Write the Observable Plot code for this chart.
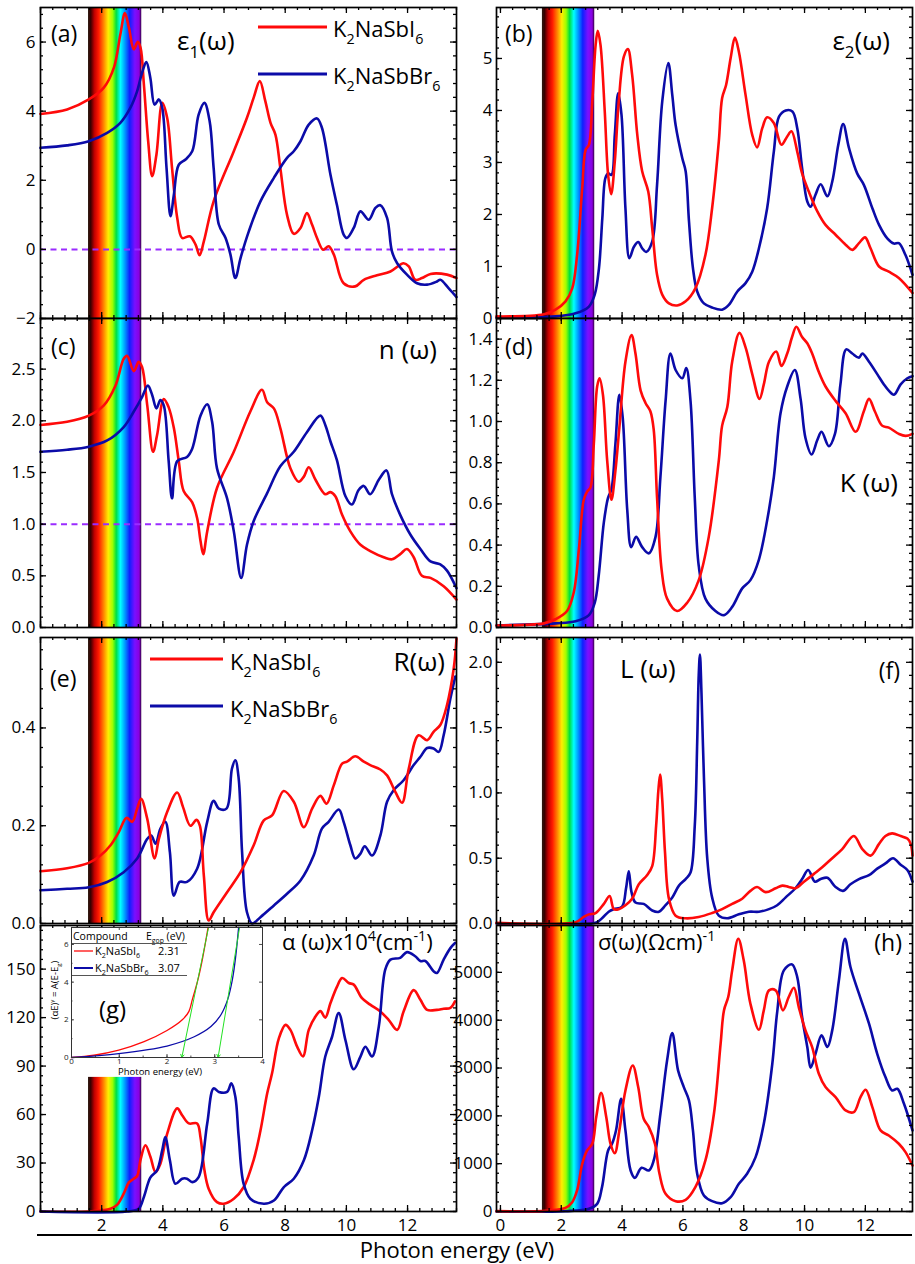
<!DOCTYPE html>
<html><head><meta charset="utf-8">
<script src="https://cdn.jsdelivr.net/npm/d3@7"></script>
<script src="https://cdn.jsdelivr.net/npm/@observablehq/plot@0.6"></script>
<style>
body{margin:0;background:#fff;}
#root{position:relative;width:915px;height:1264px;overflow:hidden;font-family:"Open Sans",sans-serif;background:#fff;}
#root svg{position:absolute;}
</style></head><body>
<svg width="0" height="0" style="position:absolute"><defs>
<linearGradient id="rainbow" x1="0" x2="1" y1="0" y2="0">
<stop offset="0" stop-color="#2a1a10"/><stop offset="0.05" stop-color="#3a0000"/>
<stop offset="0.12" stop-color="#c00000"/><stop offset="0.2" stop-color="#ff1a00"/>
<stop offset="0.3" stop-color="#ff8c00"/><stop offset="0.38" stop-color="#ffee00"/>
<stop offset="0.46" stop-color="#a0ff00"/><stop offset="0.53" stop-color="#00e040"/>
<stop offset="0.61" stop-color="#00ffff"/><stop offset="0.7" stop-color="#0090ff"/>
<stop offset="0.78" stop-color="#1020ff"/><stop offset="0.88" stop-color="#7a10ff"/>
<stop offset="0.96" stop-color="#8a00e0"/><stop offset="1" stop-color="#300040"/>
</linearGradient></defs></svg>
<div id="root"></div>
<script>
// ---------------- data (photon energy eV, value) ----------------
const eps1_I = [[0,3.92],[0.87,4.05],[1.58,4.34],[2.07,4.68],[2.4,5.26],[2.61,6.22],[2.76,6.84],[2.89,6.42],[3.05,5.79],[3.18,6.01],[3.27,5.84],[3.38,4.77],[3.52,3.13],[3.65,2.12],[3.79,2.74],[3.98,4.24],[4.14,3.81],[4.3,2.36],[4.47,0.91],[4.63,0.33],[4.88,0.38],[5.07,0.14],[5.2,-0.17],[5.34,0.23],[5.66,1.39],[6.32,2.84],[6.75,3.81],[6.97,4.39],[7.17,4.87],[7.35,4.29],[7.52,3.66],[7.68,3.32],[7.84,2.36],[8.06,1.0],[8.28,0.45],[8.5,0.62],[8.71,1.05],[8.88,0.71],[9.04,0.33],[9.24,-0.01],[9.42,0.09],[9.59,-0.15],[9.91,-0.98],[10.29,-1.07],[10.57,-0.88],[11.0,-0.75],[11.44,-0.64],[11.87,-0.4],[12.04,-0.49],[12.25,-0.88],[12.47,-0.83],[12.75,-0.71],[13.29,-0.73],[13.6,-0.83]];
const eps1_Br = [[0,2.94],[0.87,3.01],[1.58,3.13],[2.18,3.37],[2.61,3.66],[2.94,4.1],[3.16,4.58],[3.32,5.11],[3.46,5.42],[3.59,4.97],[3.73,4.19],[3.87,4.34],[3.98,4.1],[4.12,2.36],[4.25,0.96],[4.36,1.58],[4.52,2.45],[4.74,2.6],[4.96,2.84],[5.17,3.9],[5.36,4.24],[5.53,3.71],[5.66,2.36],[5.83,0.72],[6.05,0.33],[6.21,-0.15],[6.37,-0.83],[6.54,-0.25],[6.81,0.52],[7.19,1.39],[7.63,2.07],[8.06,2.65],[8.28,2.84],[8.5,3.13],[8.77,3.61],[9.04,3.79],[9.2,3.52],[9.48,2.16],[9.69,1.29],[9.91,0.43],[10.02,0.33],[10.24,0.62],[10.46,1.1],[10.73,0.86],[10.95,1.2],[11.11,1.28],[11.33,0.91],[11.49,-0.06],[11.66,-0.4],[11.98,-0.73],[12.31,-0.98],[12.64,-1.02],[12.96,-0.93],[13.07,-0.88],[13.34,-1.12],[13.6,-1.38]];
const eps2_I = [[-0.13,0.04],[1.43,0.08],[1.81,0.17],[2.14,0.33],[2.36,0.58],[2.52,1.22],[2.69,2.51],[2.8,3.24],[2.91,3.34],[3.02,4.17],[3.13,5.26],[3.2,5.53],[3.29,5.26],[3.43,3.98],[3.54,2.76],[3.64,2.39],[3.76,3.02],[3.89,4.17],[4.06,5.04],[4.19,5.18],[4.33,4.69],[4.5,3.53],[4.66,2.83],[4.86,2.44],[4.99,1.74],[5.15,0.84],[5.32,0.46],[5.54,0.29],[5.81,0.25],[6.09,0.33],[6.41,0.58],[6.74,1.22],[6.96,2.12],[7.18,3.4],[7.29,4.24],[7.42,4.49],[7.57,5.01],[7.71,5.4],[7.84,5.13],[8.06,4.3],[8.28,3.53],[8.44,3.29],[8.61,3.66],[8.77,3.87],[8.99,3.76],[9.24,3.34],[9.43,3.5],[9.57,3.6],[9.76,3.21],[9.92,2.79],[10.14,2.44],[10.42,2.06],[10.69,1.8],[11.02,1.61],[11.35,1.42],[11.57,1.32],[11.79,1.45],[11.99,1.56],[12.17,1.35],[12.45,1.0],[12.77,0.9],[13.1,0.78],[13.55,0.49]];
const eps2_Br = [[-0.13,0.02],[1.81,0.04],[2.47,0.1],[2.91,0.23],[3.1,0.46],[3.24,0.97],[3.35,1.93],[3.45,2.7],[3.54,2.79],[3.65,2.76],[3.76,3.53],[3.87,4.33],[3.98,3.92],[4.11,2.12],[4.24,1.16],[4.39,1.38],[4.53,1.47],[4.66,1.35],[4.79,1.28],[4.99,1.48],[5.15,2.57],[5.32,4.17],[5.52,4.91],[5.65,4.3],[5.76,3.72],[5.98,3.08],[6.09,2.83],[6.2,1.87],[6.33,0.97],[6.47,0.52],[6.69,0.29],[6.96,0.21],[7.29,0.17],[7.51,0.26],[7.79,0.52],[8.06,0.68],[8.28,0.9],[8.5,1.35],[8.77,2.12],[8.99,3.21],[9.16,3.88],[9.38,4.0],[9.6,3.98],[9.76,3.66],[9.92,2.89],[10.09,2.25],[10.2,2.15],[10.36,2.38],[10.53,2.58],[10.75,2.35],[10.91,2.63],[11.11,3.34],[11.27,3.74],[11.46,3.28],[11.73,2.79],[11.95,2.57],[12.23,2.12],[12.45,1.8],[12.72,1.54],[12.94,1.44],[13.1,1.45],[13.32,1.22],[13.55,0.84]];
const n_I = [[0,1.96],[0.87,1.99],[1.58,2.05],[2.07,2.15],[2.45,2.34],[2.72,2.6],[2.83,2.63],[3.05,2.48],[3.21,2.57],[3.32,2.52],[3.49,2.15],[3.68,1.7],[3.81,1.86],[4.03,2.21],[4.19,2.13],[4.36,1.93],[4.52,1.61],[4.68,1.32],[4.96,1.21],[5.12,1.06],[5.23,0.84],[5.32,0.71],[5.45,0.93],[5.77,1.35],[6.32,1.7],[6.86,2.09],[7.24,2.3],[7.41,2.18],[7.63,2.12],[7.84,1.93],[8.17,1.54],[8.44,1.41],[8.61,1.46],[8.77,1.55],[8.99,1.43],[9.31,1.29],[9.48,1.31],[9.64,1.27],[9.86,1.09],[10.13,0.93],[10.46,0.8],[10.78,0.74],[11.22,0.68],[11.49,0.66],[11.76,0.71],[11.98,0.76],[12.2,0.68],[12.47,0.5],[12.75,0.48],[13.18,0.4],[13.6,0.27]];
const n_Br = [[0,1.7],[0.87,1.72],[1.58,1.75],[2.18,1.81],[2.72,1.94],[3.05,2.09],[3.32,2.23],[3.51,2.34],[3.65,2.25],[3.79,2.12],[3.92,2.2],[4.03,2.15],[4.19,1.61],[4.3,1.25],[4.47,1.61],[4.79,1.65],[4.96,1.73],[5.23,2.05],[5.45,2.16],[5.61,1.99],[5.77,1.54],[6.1,1.25],[6.32,0.93],[6.56,0.48],[6.75,0.8],[6.97,1.03],[7.41,1.3],[7.84,1.56],[8.28,1.7],[8.71,1.89],[9.15,2.05],[9.31,1.96],[9.48,1.8],[9.69,1.62],[9.97,1.27],[10.18,1.19],[10.4,1.33],[10.57,1.37],[10.78,1.29],[11.06,1.43],[11.31,1.52],[11.49,1.29],[11.76,1.09],[12.09,0.9],[12.42,0.76],[12.75,0.64],[13.07,0.61],[13.29,0.55],[13.6,0.38]];
const k_I = [[-0.13,0.01],[1.43,0.02],[1.81,0.04],[2.19,0.08],[2.41,0.17],[2.58,0.38],[2.74,0.62],[2.85,0.66],[2.96,0.68],[3.07,0.89],[3.18,1.17],[3.26,1.21],[3.37,1.13],[3.51,0.81],[3.65,0.62],[3.78,0.76],[3.91,0.97],[4.11,1.29],[4.31,1.42],[4.44,1.33],[4.61,1.15],[4.77,1.09],[4.93,1.05],[5.04,0.96],[5.15,0.63],[5.3,0.28],[5.48,0.14],[5.81,0.08],[6.14,0.12],[6.52,0.23],[6.85,0.44],[7.18,0.81],[7.29,0.98],[7.46,1.07],[7.62,1.29],[7.86,1.43],[8.06,1.36],[8.28,1.23],[8.52,1.11],[8.66,1.18],[8.83,1.29],[9.07,1.34],[9.24,1.27],[9.43,1.33],[9.59,1.41],[9.73,1.46],[9.92,1.41],[10.09,1.38],[10.25,1.33],[10.47,1.24],[10.69,1.17],[11.02,1.1],[11.35,1.04],[11.68,0.95],[11.95,1.05],[12.12,1.11],[12.31,1.05],[12.55,0.98],[12.77,0.97],[13.1,0.94],[13.32,0.93],[13.55,0.94]];
const k_Br = [[-0.13,0.01],[1.81,0.02],[2.47,0.03],[2.91,0.06],[3.1,0.12],[3.23,0.25],[3.4,0.51],[3.54,0.63],[3.65,0.67],[3.78,0.89],[3.91,1.13],[4.02,1.02],[4.17,0.57],[4.3,0.39],[4.46,0.44],[4.66,0.39],[4.88,0.36],[5.1,0.44],[5.26,0.73],[5.43,1.1],[5.59,1.33],[5.76,1.25],[5.98,1.21],[6.11,1.26],[6.25,1.1],[6.39,0.63],[6.52,0.3],[6.74,0.14],[7.07,0.08],[7.35,0.06],[7.62,0.1],[7.95,0.19],[8.22,0.23],[8.5,0.33],[8.77,0.52],[8.99,0.73],[9.21,1.04],[9.43,1.17],[9.68,1.25],[9.87,1.11],[10.03,0.92],[10.23,0.84],[10.42,0.91],[10.56,0.95],[10.8,0.88],[11.0,0.94],[11.18,1.18],[11.37,1.35],[11.57,1.33],[11.79,1.31],[11.9,1.33],[12.12,1.29],[12.39,1.23],[12.61,1.18],[12.77,1.15],[12.94,1.13],[13.16,1.18],[13.38,1.21],[13.55,1.22]];
const R_I = [[0,0.107],[0.87,0.113],[1.58,0.124],[1.96,0.139],[2.29,0.16],[2.56,0.187],[2.81,0.216],[3.0,0.208],[3.16,0.235],[3.29,0.255],[3.49,0.214],[3.73,0.133],[3.87,0.173],[4.14,0.228],[4.47,0.268],[4.66,0.238],[4.9,0.2],[5.1,0.212],[5.21,0.2],[5.34,0.098],[5.5,0.006],[5.66,0.023],[6.1,0.064],[6.54,0.105],[6.97,0.16],[7.3,0.211],[7.57,0.221],[7.95,0.271],[8.28,0.249],[8.61,0.197],[8.88,0.235],[9.15,0.261],[9.35,0.245],[9.59,0.283],[9.86,0.327],[10.02,0.331],[10.29,0.342],[10.57,0.331],[10.78,0.324],[11.11,0.315],[11.33,0.303],[11.6,0.269],[11.82,0.247],[12.04,0.317],[12.36,0.385],[12.64,0.375],[12.85,0.392],[13.07,0.406],[13.29,0.447],[13.51,0.522],[13.6,0.583]];
const R_Br = [[0,0.068],[0.87,0.071],[1.58,0.074],[2.18,0.085],[2.72,0.105],[3.16,0.133],[3.49,0.173],[3.62,0.18],[3.76,0.163],[3.92,0.194],[4.08,0.208],[4.23,0.146],[4.36,0.057],[4.55,0.085],[4.79,0.085],[5.12,0.112],[5.45,0.208],[5.66,0.251],[5.83,0.235],[6.08,0.235],[6.26,0.317],[6.37,0.334],[6.48,0.296],[6.59,0.146],[6.75,0.023],[6.92,0.0],[7.19,0.013],[7.63,0.037],[8.06,0.061],[8.5,0.088],[8.93,0.139],[9.2,0.194],[9.42,0.208],[9.75,0.233],[9.91,0.208],[10.13,0.16],[10.29,0.133],[10.46,0.143],[10.6,0.158],[10.84,0.139],[11.11,0.18],[11.33,0.249],[11.55,0.273],[11.87,0.293],[12.2,0.324],[12.42,0.341],[12.64,0.359],[12.85,0.358],[13.02,0.351],[13.18,0.385],[13.4,0.46],[13.56,0.505]];
const L_I = [[-0.13,0.005],[2.47,0.01],[2.74,0.05],[2.91,0.07],[3.13,0.08],[3.4,0.15],[3.59,0.21],[3.73,0.11],[3.89,0.11],[4.11,0.14],[4.33,0.19],[4.55,0.3],[4.82,0.37],[4.99,0.44],[5.12,0.75],[5.19,1.01],[5.25,1.14],[5.32,0.95],[5.41,0.55],[5.54,0.19],[5.76,0.06],[6.09,0.04],[6.52,0.05],[6.96,0.08],[7.29,0.11],[7.62,0.15],[7.95,0.19],[8.22,0.25],[8.44,0.28],[8.72,0.24],[9.05,0.27],[9.27,0.29],[9.48,0.28],[9.7,0.27],[9.98,0.32],[10.31,0.38],[10.58,0.43],[10.91,0.5],[11.24,0.57],[11.62,0.67],[11.9,0.57],[12.17,0.52],[12.45,0.61],[12.66,0.67],[12.88,0.69],[13.16,0.67],[13.38,0.65],[13.49,0.61],[13.55,0.52]];
const L_Br = [[-0.13,0.0],[3.13,0.005],[3.34,0.04],[3.56,0.09],[3.73,0.11],[4.0,0.13],[4.13,0.27],[4.22,0.4],[4.31,0.24],[4.44,0.16],[4.71,0.15],[4.99,0.1],[5.21,0.09],[5.43,0.14],[5.65,0.2],[5.87,0.29],[6.09,0.34],[6.25,0.39],[6.39,0.75],[6.47,1.39],[6.52,1.9],[6.56,2.06],[6.61,1.77],[6.69,1.13],[6.8,0.5],[6.96,0.2],[7.18,0.06],[7.46,0.04],[7.84,0.07],[8.17,0.09],[8.5,0.09],[8.83,0.11],[9.1,0.14],[9.38,0.2],[9.7,0.27],[9.92,0.34],[10.12,0.41],[10.34,0.32],[10.53,0.34],[10.75,0.35],[11.02,0.28],[11.26,0.25],[11.51,0.3],[11.79,0.34],[12.12,0.37],[12.39,0.42],[12.66,0.46],[12.91,0.5],[13.16,0.45],[13.38,0.41],[13.55,0.32]];
const alpha_I = [[0,0],[1.58,0],[1.96,0.6],[2.29,1.7],[2.51,4.3],[2.72,11],[2.89,18],[3.05,20.3],[3.16,22],[3.27,32],[3.43,41],[3.59,34],[3.76,24.4],[3.92,29.6],[4.14,48],[4.47,63.8],[4.63,59.6],[4.85,54.5],[5.12,54.5],[5.23,46],[5.36,25.5],[5.5,14],[5.77,5.8],[5.99,4.8],[6.32,7.9],[6.64,15],[6.97,32],[7.19,50],[7.41,73],[7.57,85.5],[7.79,107],[8.01,115.5],[8.17,112.4],[8.39,102],[8.58,96],[8.77,112.4],[8.99,120.7],[9.15,124],[9.31,120],[9.48,129],[9.69,139],[9.86,144.5],[10.08,141.4],[10.24,140.4],[10.51,132],[10.78,128],[11.11,123.8],[11.38,118.6],[11.66,112.4],[11.87,123.8],[12.2,137],[12.42,131],[12.64,124.8],[12.96,124.8],[13.18,125.5],[13.4,126],[13.55,130]];
const alpha_Br = [[0,0],[2.83,0],[3.21,1.7],[3.38,9],[3.59,21],[3.81,25.5],[3.98,38],[4.08,46],[4.23,31.7],[4.41,17.2],[4.63,20.3],[4.79,20.3],[4.96,18.2],[5.17,21.3],[5.45,54.5],[5.66,76.2],[5.83,74],[6.1,74],[6.24,79.3],[6.37,71],[6.48,46],[6.64,17.2],[6.86,7.9],[7.3,4.8],[7.63,6.8],[7.95,15],[8.28,20.3],[8.61,31.7],[8.88,50.3],[9.1,71],[9.31,95.9],[9.53,108],[9.75,122.8],[9.97,106],[10.24,88],[10.46,95.9],[10.62,102],[10.84,95.9],[11.06,114.5],[11.27,149.7],[11.44,155.9],[11.76,157],[11.98,160.5],[12.25,158],[12.42,155],[12.58,155],[12.85,148.7],[12.96,147.6],[13.18,155.9],[13.4,163],[13.56,166.3]];
const sigma_I = [[-0.13,7],[1.37,7],[1.81,35],[2.14,77],[2.36,195],[2.52,440],[2.69,997],[2.85,1276],[3.02,1416],[3.15,1973],[3.31,2483],[3.48,1973],[3.62,1416],[3.76,1220],[3.91,1695],[4.11,2531],[4.35,3054],[4.53,2601],[4.71,1939],[4.88,1764],[5.08,1416],[5.23,788],[5.43,370],[5.76,216],[6.09,244],[6.41,509],[6.74,1067],[7.02,2043],[7.24,3508],[7.35,4205],[7.49,4484],[7.62,5042],[7.82,5704],[8.0,5251],[8.22,4344],[8.5,3801],[8.66,4205],[8.83,4623],[9.05,4623],[9.29,4205],[9.48,4484],[9.65,4679],[9.81,4275],[10.03,3787],[10.25,3438],[10.47,2880],[10.69,2601],[11.02,2392],[11.35,2113],[11.62,2078],[11.84,2392],[12.01,2545],[12.23,2183],[12.5,1695],[12.77,1590],[13.1,1416],[13.32,1241],[13.55,962]];
const sigma_Br = [[-0.13,0],[2.14,7],[2.91,56],[3.18,160],[3.34,509],[3.54,1276],[3.67,1416],[3.8,1695],[3.97,2357],[4.11,1695],[4.28,858],[4.42,704],[4.64,914],[4.88,858],[5.04,1067],[5.26,2043],[5.48,3159],[5.65,3731],[5.84,2950],[6.03,2601],[6.2,2322],[6.33,1695],[6.47,788],[6.69,335],[6.96,216],[7.29,174],[7.57,300],[7.84,579],[8.11,788],[8.39,1137],[8.66,1834],[8.94,3089],[9.1,4170],[9.32,5042],[9.59,5167],[9.76,4902],[9.92,4066],[10.09,3438],[10.2,3006],[10.36,3298],[10.56,3682],[10.75,3438],[10.91,3787],[11.13,4833],[11.33,5704],[11.51,5112],[11.79,4554],[12.12,3926],[12.39,3298],[12.66,2810],[12.88,2531],[13.05,2566],[13.27,2252],[13.55,1695]];
// inset (g): Tauc plot
const tauc_I = [[0,0],[0.47,0.12],[0.99,0.39],[1.52,0.84],[2.0,1.43],[2.32,2.0],[2.46,2.45],[2.53,3.07],[2.64,4.05],[2.74,5.2],[2.86,6.9]];
const tauc_Br = [[0,0],[0.99,0.21],[2.0,0.61],[2.57,1.1],[2.92,1.64],[3.13,2.27],[3.27,3.07],[3.37,4.14],[3.44,5.39],[3.5,6.9]];
const gapValues = [2.31, 3.07];
const tangentTops = [[2.87, 6.9], [3.52, 6.9]];
const compounds = ["K2NaSbI6", "K2NaSbBr6"];
// visible-light band (eV)
const bandLeft = [1.57, 3.31];
const bandRight = [1.38, 3.10];
const alphaBandTop = 83;
// axis ticks
const xLabelsLeft = [2, 4, 6, 8, 10, 12];
const xLabelsRight = [0, 2, 4, 6, 8, 10, 12];

// ---------------- drawing ----------------
const RED = "#ff0a0a", BLUE = "#0b0ba8", PURPLE = "#9a2cff";
const root = document.getElementById("root");
const NS = "http://www.w3.org/2000/svg";
const steps = (dom, step) => {
  const a = Math.ceil(dom[0] / step - 1e-9), b = Math.floor(dom[1] / step + 1e-9);
  return d3.range(a, b + 1).map(k => +(k * step).toFixed(6));
};

function panel(o) {
  const W = o.width - o.mL - o.mR, H = o.height - o.mT - o.mB;
  const xMajor = steps(o.xDomain, 2), xMinor = steps(o.xDomain, 0.4);
  const yMajor = steps(o.yDomain, o.yStep), yMinor = steps(o.yDomain, o.yStep / 5);
  const marks = [];
  if (o.band) marks.push(Plot.rect([o.band], {x1: d => d[0], x2: d => d[1],
    ...(o.bandTop != null ? {y1: () => 0, y2: () => o.bandTop} : {}), fill: "url(#rainbow)"}));
  if (o.hline != null) marks.push(Plot.ruleY([o.hline], {stroke: PURPLE, strokeWidth: 2, strokeDasharray: "6,4.5"}));
  for (const s of o.series) marks.push(Plot.line(s.data, {x: d => d[0], y: d => d[1], stroke: s.color, strokeWidth: 2.6, curve: "catmull-rom"}));
  const tk = {stroke: "black", strokeWidth: 1.3};
  marks.push(
    Plot.tickX(xMajor, {x: d => d, insetTop: H - 6, ...tk}),
    Plot.tickX(xMajor, {x: d => d, insetBottom: H - 6, ...tk}),
    Plot.tickX(xMinor, {x: d => d, insetTop: H - 3, ...tk}),
    Plot.tickX(xMinor, {x: d => d, insetBottom: H - 3, ...tk}),
    Plot.tickY(yMajor, {y: d => d, insetRight: W - 6, ...tk}),
    Plot.tickY(yMajor, {y: d => d, insetLeft: W - 6, ...tk}),
    Plot.tickY(yMinor, {y: d => d, insetRight: W - 3, ...tk}),
    Plot.tickY(yMinor, {y: d => d, insetLeft: W - 3, ...tk}),
    Plot.frame({stroke: "black", strokeWidth: 1.7})
  );
  const svg = Plot.plot({
    width: o.width, height: o.height,
    marginLeft: o.mL, marginRight: o.mR, marginTop: o.mT, marginBottom: o.mB,
    style: {background: "transparent", overflow: "visible", fontFamily: "Open Sans", fontSize: "17px", color: "black"},
    x: o.xLabels ? {domain: o.xDomain, ticks: o.xLabels, tickSize: 0, tickPadding: 7, tickFormat: d3.format("d"), label: null}
                 : {domain: o.xDomain, axis: null},
    y: {domain: o.yDomain, ticks: yMajor, tickSize: 0, tickPadding: o.yPad ?? 5, tickFormat: o.yFmt, label: null},
    marks
  });
  svg.style.left = o.left + "px"; svg.style.top = o.top + "px";
  root.appendChild(svg);
}

const L = {left: 0, width: 460, mL: 40, mR: 4, xDomain: [0, 13.6], band: bandLeft};
const Rc = {left: 460, width: 455, mL: 36, mR: 3, xDomain: [-0.13, 13.55], band: bandRight, yPad: 4};
const r1 = {top: 0, height: 330, mT: 7, mB: 12};
const r2 = {top: 308, height: 331, mT: 10, mB: 12};
const r3 = {top: 627, height: 308, mT: 10, mB: 12};
const r4 = {top: 915, height: 326, mT: 10, mB: 30};
const f1 = d3.format(".1f"), fd = d3.format("d");

panel({...L, ...r1, yDomain: [-2, 7], yStep: 2, yFmt: fd, hline: 0,
  series: [{data: eps1_I, color: RED}, {data: eps1_Br, color: BLUE}]});
panel({...Rc, ...r1, yDomain: [0, 5.98], yStep: 1, yFmt: fd,
  series: [{data: eps2_Br, color: BLUE}, {data: eps2_I, color: RED}]});
panel({...L, ...r2, yDomain: [0, 2.99], yStep: 0.5, yFmt: f1, hline: 1,
  series: [{data: n_I, color: RED}, {data: n_Br, color: BLUE}]});
panel({...Rc, ...r2, yDomain: [0, 1.5], yStep: 0.2, yFmt: f1,
  series: [{data: k_Br, color: BLUE}, {data: k_I, color: RED}]});
panel({...L, ...r3, yDomain: [0, 0.585], yStep: 0.2, yFmt: f1,
  series: [{data: R_Br, color: BLUE}, {data: R_I, color: RED}]});
panel({...Rc, ...r3, yDomain: [0, 2.19], yStep: 0.5, yFmt: f1,
  series: [{data: L_Br, color: BLUE}, {data: L_I, color: RED}]});
panel({...L, ...r4, yDomain: [0, 177], yStep: 30, yFmt: fd, xLabels: xLabelsLeft, bandTop: alphaBandTop,
  series: [{data: alpha_I, color: RED}, {data: alpha_Br, color: BLUE}]});
panel({...Rc, ...r4, yDomain: [0, 5980], yStep: 1000, yFmt: fd, xLabels: xLabelsRight,
  series: [{data: sigma_Br, color: BLUE}, {data: sigma_I, color: RED}]});

// inset (g)
{
  const width = 240, height = 175, mL = 31, mR = 18, mT = 12, mB = 33;
  const W = width - mL - mR, H = height - mT - mB;
  const xd = [0, 4], yd = [0, 6.9];
  const tk = {stroke: "#222", strokeWidth: 0.8};
  const xM = steps(xd, 1), xm = steps(xd, 0.5), yM = steps(yd, 2), ym = steps(yd, 1);
  const svg = Plot.plot({
    width, height, marginLeft: mL, marginRight: mR, marginTop: mT, marginBottom: mB,
    style: {background: "transparent", overflow: "visible", fontFamily: "Open Sans", fontSize: "8px", color: "#222"},
    x: {domain: xd, ticks: xM, tickSize: 0, tickPadding: 1, tickFormat: fd, label: null},
    y: {domain: yd, ticks: yM, tickSize: 0, tickPadding: 3, tickFormat: fd, label: null},
    marks: [
      Plot.rect([0], {fill: "white"}),
      Plot.line(tauc_I, {x: d => d[0], y: d => d[1], stroke: RED, strokeWidth: 1.3, curve: "catmull-rom"}),
      Plot.line(tauc_Br, {x: d => d[0], y: d => d[1], stroke: BLUE, strokeWidth: 1.3, curve: "catmull-rom"}),
      Plot.arrow(gapValues, {x1: (d, i) => tangentTops[i][0], y1: (d, i) => tangentTops[i][1], x2: d => d, y2: () => 0,
        stroke: "#22e022", strokeWidth: 1, headLength: 5}),
      Plot.tickX(xM, {x: d => d, insetTop: H - 3, ...tk}),
      Plot.tickX(xm, {x: d => d, insetTop: H - 1.5, ...tk}),
      Plot.tickX(xM, {x: d => d, insetBottom: H - 3, ...tk}),
      Plot.tickY(yM, {y: d => d, insetRight: W - 3, ...tk}),
      Plot.tickY(ym, {y: d => d, insetRight: W - 1.5, ...tk}),
      Plot.tickY(yM, {y: d => d, insetLeft: W - 3, ...tk}),
      Plot.frame({stroke: "#333", strokeWidth: 1})
    ]
  });
  svg.style.left = "40px"; svg.style.top = "915px";
  root.appendChild(svg);
}

// ---------------- annotations ----------------
const ov = document.createElementNS(NS, "svg");
ov.setAttribute("width", 915); ov.setAttribute("height", 1264);
ov.style.left = "0px"; ov.style.top = "0px"; ov.style.pointerEvents = "none";
ov.setAttribute("font-family", "Open Sans"); ov.setAttribute("fill", "black");
root.appendChild(ov);
function txt(x, y, size, anchor, parts, rotate) {
  const t = document.createElementNS(NS, "text");
  t.setAttribute("x", x); t.setAttribute("y", y); t.setAttribute("font-size", size);
  t.setAttribute("text-anchor", anchor);
  if (rotate) t.setAttribute("transform", `rotate(-90 ${x} ${y})`);
  let shift = 0;
  for (const p of [].concat(parts)) {
    const s = document.createElementNS(NS, "tspan");
    let target = 0, fs = size, str = p;
    if (typeof p !== "string") {
      if (p.sub != null) { target = 0.3 * size; str = p.sub; }
      else { target = -0.42 * size; str = p.sup; }
      fs = 0.65 * size;
    }
    s.setAttribute("font-size", fs);
    if (target !== shift) s.setAttribute("dy", target - shift);
    shift = target; s.textContent = str; t.appendChild(s);
  }
  ov.appendChild(t);
}
function seg(x1, x2, y, color, w) {
  const l = document.createElementNS(NS, "line");
  l.setAttribute("x1", x1); l.setAttribute("x2", x2); l.setAttribute("y1", y); l.setAttribute("y2", y);
  l.setAttribute("stroke", color); l.setAttribute("stroke-width", w); ov.appendChild(l);
}
const chem = s => { const m = s.match(/^K2NaSb(I|Br)6$/); return ["K", {sub: "2"}, "NaSb" + m[1], {sub: "6"}]; };

// (a)
txt(51, 42, 23, "start", "(a)");
txt(177, 50, 26, "start", ["ε", {sub: "1"}, "(ω)"]);
seg(258, 327, 27, RED, 3); txt(333, 37, 22, "start", chem(compounds[0]));
seg(258, 327, 74, BLUE, 3); txt(333, 84, 22, "start", chem(compounds[1]));
// (b)
txt(505, 42, 23, "start", "(b)");
txt(890, 50, 26, "end", ["ε", {sub: "2"}, "(ω)"]);
// (c)
txt(51, 355, 23, "start", "(c)");
txt(437, 359, 26, "end", "n (ω)");
// (d)
txt(505, 355, 23, "start", "(d)");
txt(898, 492, 26, "end", "K (ω)");
// (e)
txt(50, 687, 23, "start", "(e)");
seg(150, 223, 659, RED, 3); txt(230, 670, 22, "start", chem(compounds[0]));
seg(150, 223, 706, BLUE, 3); txt(230, 717, 22, "start", chem(compounds[1]));
txt(445, 671, 26, "end", "R(ω)");
// (f)
txt(620, 678, 26, "start", "L (ω)");
txt(900, 679, 23, "end", "(f)");
// (g)
txt(282, 950, 22, "start", ["α (ω)x10", {sup: "4"}, "(cm", {sup: "-1"}, ")"]);
txt(99, 1018, 24, "start", "(g)");
// (h)
txt(598, 950, 22, "start", ["σ(ω)(Ωcm)", {sup: "-1"}]);
txt(902, 951, 23, "end", "(h)");
// inset table and labels
txt(73, 940, 10.5, "start", "Compound");
txt(146, 940, 10.5, "start", ["E", {sub: "gop"}, " (eV)"]);
seg(72, 187, 943.5, "#555", 1);
seg(74, 93, 951, RED, 1.3); txt(95, 955, 11, "start", chem(compounds[0])); txt(158, 955, 11, "start", gapValues[0].toFixed(2));
seg(74, 93, 968, BLUE, 2); txt(95, 972, 11, "start", chem(compounds[1])); txt(158, 972, 11, "start", gapValues[1].toFixed(2));
seg(72, 187, 975.5, "#555", 1);
txt(160, 1075, 9.5, "middle", "Photon energy (eV)");
txt(58, 990, 9.5, "middle", ["(αE)", {sup: "γ"}, " = A(E-E", {sub: "g"}, ")"], true);
// common x title
seg(37, 912, 1235, "black", 2);
txt(457, 1258, 22, "middle", "Photon energy (eV)");
</script>
</body></html>
